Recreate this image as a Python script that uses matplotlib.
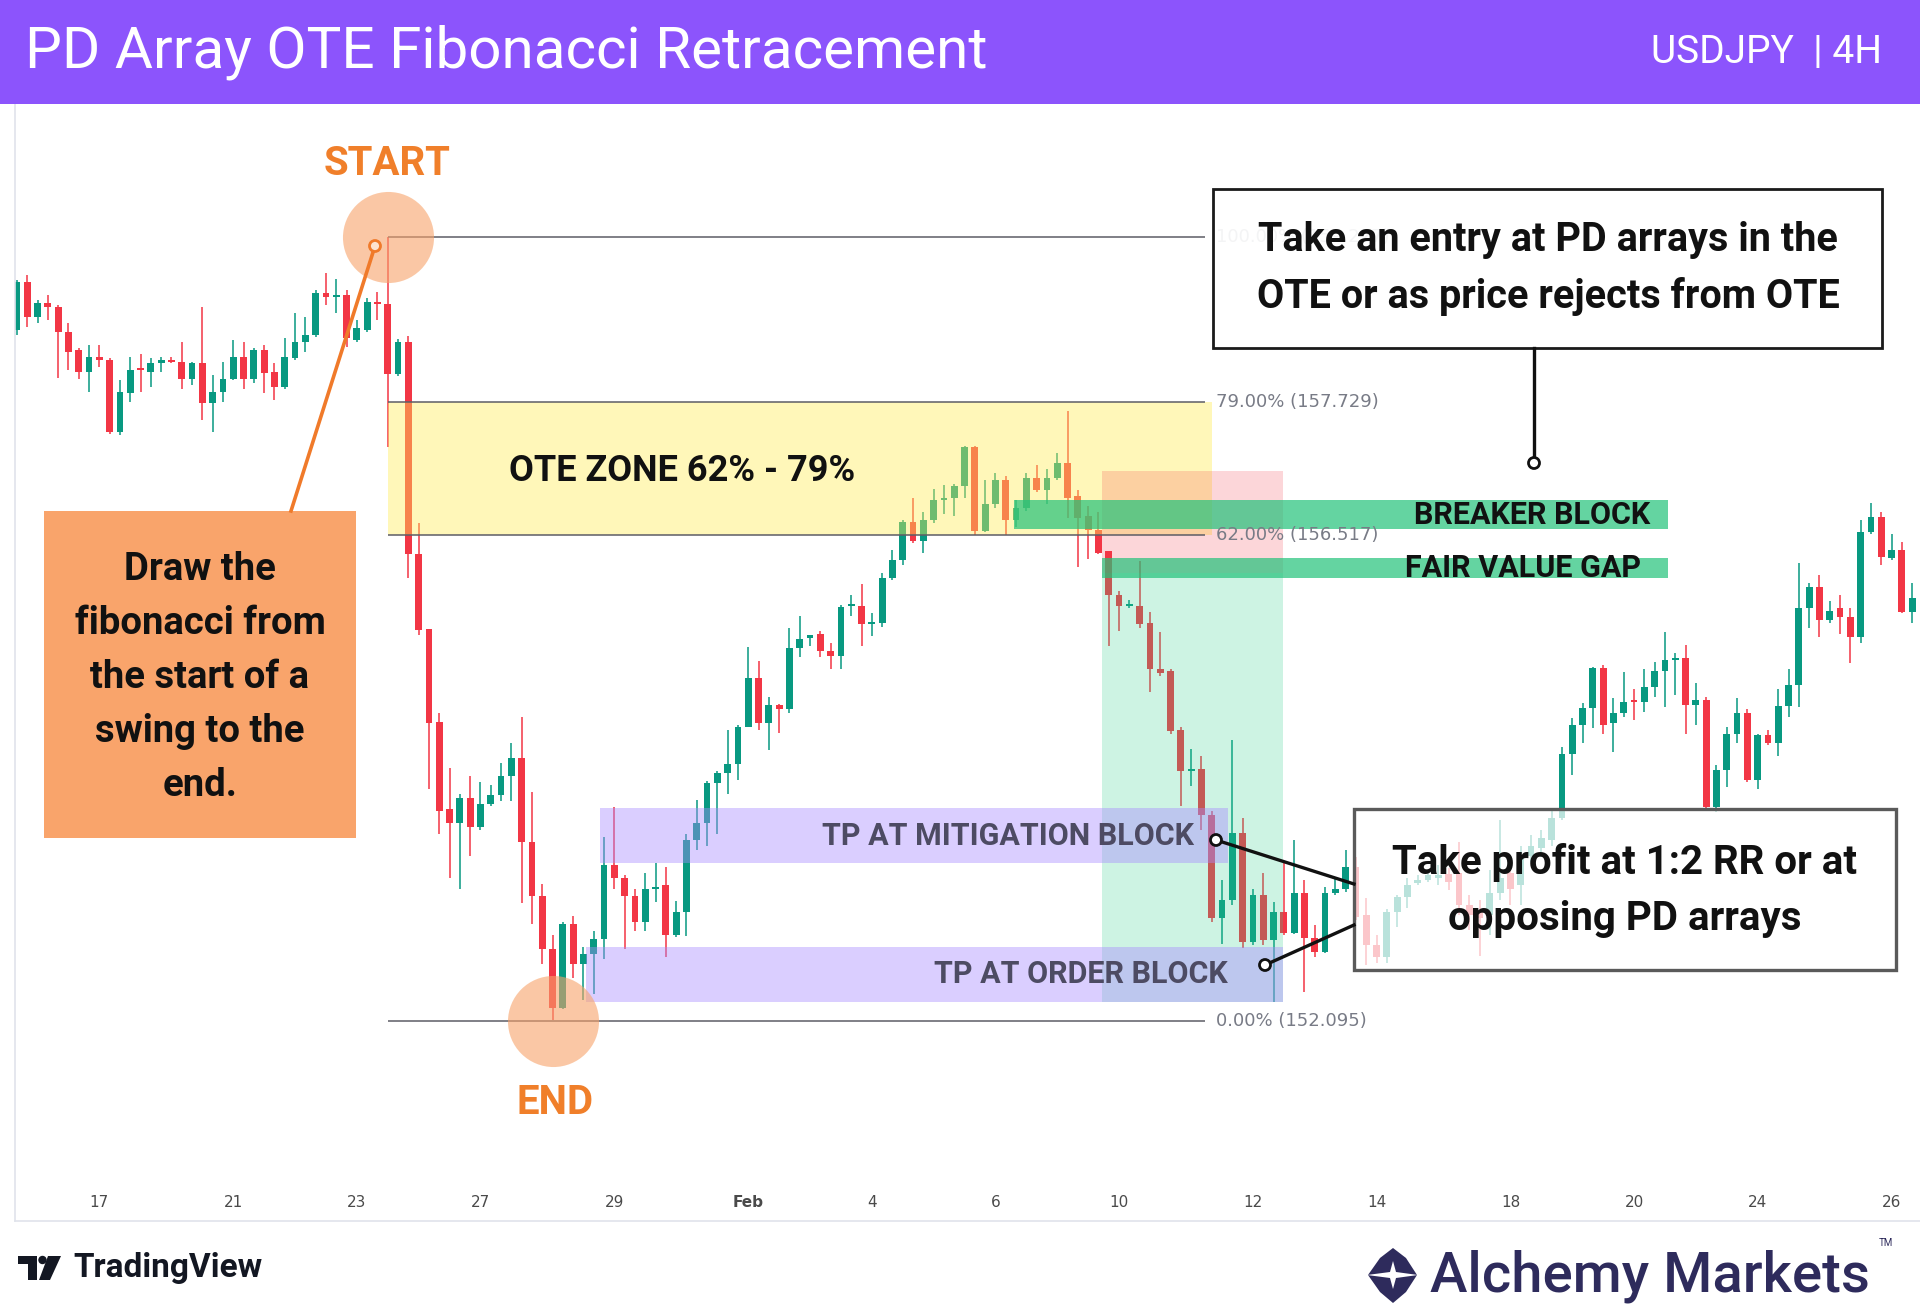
import numpy as np
import matplotlib.pyplot as plt
from matplotlib.patches import Rectangle, Polygon, Circle

# ---------------------------------------------------------------------------
# USDJPY 4H candles
opens = [158.38, 158.82, 158.50, 158.63, 158.59, 158.36, 158.20, 158.00, 158.14, 158.11,
         157.45, 157.81, 158.04, 158.00, 158.08, 158.11, 158.09, 157.94, 158.08, 157.72,
         157.82, 157.94, 158.14, 157.94, 158.20, 158.00, 157.86, 158.13, 158.27, 158.34,
         158.72, 158.68, 158.70, 158.29, 158.38, 158.64, 158.62, 157.98, 158.27, 156.34,
         155.66, 154.82, 154.02, 153.90, 154.12, 153.86, 154.07, 154.15, 154.32, 154.49,
         153.72, 153.23, 152.75, 152.21, 152.98, 152.61, 152.70, 152.84, 153.51, 153.40,
         153.23, 153.00, 153.30, 153.33, 152.88, 153.09, 153.74, 153.90, 154.26, 154.35,
         154.43, 154.77, 155.22, 154.81, 154.97, 154.93, 155.49, 155.58, 155.62, 155.46,
         155.42, 155.87, 155.87, 155.71, 155.72, 156.13, 156.29, 156.64, 156.46, 156.65,
         156.84, 156.85, 156.96, 157.32, 156.55, 156.80, 157.02, 156.65, 156.76, 157.04,
         156.93, 157.04, 157.17, 156.87, 156.69, 156.56, 156.37, 155.97, 155.87, 155.87,
         155.72, 155.30, 155.28, 154.74, 154.37, 154.39, 153.97, 153.03, 153.20, 153.81,
         152.81, 153.24, 152.83, 153.09, 152.90, 153.26, 152.85, 152.72, 153.26, 153.30,
         153.50, 153.06, 152.79, 152.68, 153.09, 153.22, 153.35, 153.38, 153.40, 153.43,
         153.44, 153.15, 153.09, 153.06, 153.26, 153.44, 153.33, 153.60, 153.67, 153.74,
         153.94, 154.52, 154.79, 154.94, 155.31, 154.81, 154.90, 155.02, 155.00, 155.13,
         155.28, 155.38, 155.40, 154.97, 155.02, 154.04, 154.38, 154.71, 154.90, 154.29,
         154.70, 154.62, 154.96, 155.15, 155.85, 156.04, 155.74, 155.85, 155.77, 155.59,
         156.54, 156.68, 156.31, 156.38, 155.82]
highs = [158.84, 158.88, 158.66, 158.70, 158.61, 158.45, 158.22, 158.25, 158.25, 158.13,
         157.93, 158.14, 158.16, 158.13, 158.14, 158.14, 158.27, 158.09, 158.59, 157.97,
         158.09, 158.29, 158.27, 158.22, 158.25, 158.08, 158.31, 158.54, 158.50, 158.75,
         158.90, 158.85, 158.75, 158.47, 158.67, 158.73, 159.23, 158.30, 158.33, 156.63,
         155.66, 154.90, 154.40, 154.16, 154.32, 154.27, 154.24, 154.44, 154.62, 154.86,
         154.18, 153.34, 152.88, 153.00, 153.05, 152.77, 152.91, 153.77, 154.04, 153.42,
         153.30, 153.44, 153.53, 153.50, 153.19, 153.80, 154.11, 154.28, 154.37, 154.74,
         154.79, 155.50, 155.37, 155.04, 154.98, 155.67, 155.78, 155.61, 155.64, 155.53,
         155.88, 155.97, 156.07, 155.81, 156.17, 156.38, 156.65, 156.85, 156.73, 156.94,
         156.97, 156.98, 157.33, 157.33, 157.02, 157.08, 157.05, 156.84, 157.08, 157.15,
         157.12, 157.26, 157.65, 156.93, 156.78, 156.73, 156.37, 156.01, 155.93, 156.28,
         155.82, 155.63, 155.30, 154.77, 154.57, 154.51, 154.01, 153.38, 154.65, 153.94,
         153.30, 153.44, 153.18, 153.53, 153.74, 153.38, 152.97, 153.31, 153.40, 153.65,
         153.59, 153.21, 152.88, 153.11, 153.24, 153.40, 153.42, 153.44, 153.51, 153.49,
         153.72, 153.24, 153.20, 153.47, 153.92, 153.56, 153.69, 153.79, 153.83, 154.02,
         154.59, 154.85, 154.99, 155.32, 155.33, 155.03, 155.27, 155.12, 155.30, 155.36,
         155.63, 155.44, 155.52, 155.17, 155.04, 154.42, 154.77, 155.03, 154.93, 154.71,
         154.74, 155.12, 155.30, 156.26, 156.08, 156.15, 155.92, 155.97, 155.85, 156.65,
         156.81, 156.73, 156.53, 156.45, 156.08]
lows = [158.34, 158.41, 158.45, 158.47, 157.95, 158.02, 157.94, 157.82, 158.05, 157.44,
        157.43, 157.73, 157.82, 157.86, 158.00, 158.08, 157.85, 157.88, 157.56, 157.45,
        157.73, 157.93, 157.85, 157.90, 157.81, 157.75, 157.85, 158.11, 158.18, 158.32,
        158.61, 158.54, 158.23, 158.27, 158.36, 158.47, 157.32, 157.96, 156.13, 155.61,
        154.21, 153.80, 153.40, 153.30, 153.60, 153.83, 154.05, 154.10, 154.10, 153.17,
        152.98, 152.61, 152.10, 152.20, 152.49, 152.29, 152.34, 152.66, 153.30, 152.75,
        152.91, 152.91, 153.18, 152.68, 152.86, 152.87, 153.65, 153.69, 153.80, 154.16,
        154.29, 154.77, 154.74, 154.56, 154.72, 154.90, 155.41, 155.51, 155.41, 155.30,
        155.30, 155.78, 155.51, 155.60, 155.68, 156.11, 156.24, 156.44, 156.35, 156.63,
        156.71, 156.69, 156.85, 156.52, 156.54, 156.76, 156.52, 156.59, 156.74, 156.91,
        156.80, 157.02, 156.67, 156.23, 156.30, 156.34, 155.51, 155.64, 155.85, 155.67,
        155.09, 155.23, 154.71, 154.05, 154.23, 153.83, 153.00, 152.80, 153.15, 152.76,
        152.79, 152.79, 152.27, 152.88, 152.89, 152.36, 152.68, 152.71, 153.24, 153.27,
        153.01, 152.60, 152.62, 152.62, 152.95, 153.12, 153.33, 153.36, 153.33, 153.29,
        153.06, 152.92, 152.69, 152.88, 153.20, 153.15, 153.15, 153.54, 153.59, 153.69,
        153.92, 154.33, 154.62, 154.76, 154.71, 154.54, 154.86, 154.83, 154.91, 155.04,
        154.95, 155.06, 154.71, 154.79, 154.03, 154.00, 154.22, 154.62, 154.27, 154.21,
        154.61, 154.51, 154.86, 154.95, 155.67, 155.59, 155.72, 155.62, 155.35, 155.53,
        156.53, 156.24, 156.29, 155.81, 155.72]
closes = [158.82, 158.50, 158.63, 158.59, 158.36, 158.18, 158.00, 158.14, 158.11, 157.45,
          157.82, 158.02, 158.02, 158.08, 158.11, 158.09, 157.94, 158.08, 157.72, 157.82,
          157.94, 158.14, 157.94, 158.20, 157.99, 157.86, 158.14, 158.27, 158.34, 158.72,
          158.68, 158.70, 158.31, 158.40, 158.64, 158.62, 157.98, 158.27, 156.34, 155.65,
          154.81, 154.01, 153.90, 154.12, 153.86, 154.07, 154.15, 154.32, 154.49, 153.72,
          153.23, 152.75, 152.21, 152.98, 152.61, 152.70, 152.84, 153.51, 153.40, 153.23,
          153.00, 153.30, 153.31, 152.88, 153.09, 153.74, 153.90, 154.26, 154.35, 154.43,
          154.77, 155.22, 154.81, 154.97, 154.93, 155.49, 155.57, 155.61, 155.46, 155.42,
          155.86, 155.89, 155.71, 155.73, 156.13, 156.29, 156.64, 156.46, 156.65, 156.84,
          156.85, 156.96, 157.32, 156.55, 156.80, 157.02, 156.65, 156.76, 157.04, 156.93,
          157.04, 157.17, 156.85, 156.67, 156.56, 156.35, 155.97, 155.87, 155.89, 155.71,
          155.30, 155.26, 154.73, 154.37, 154.39, 153.97, 153.03, 153.20, 153.81, 152.81,
          153.24, 152.83, 153.09, 152.90, 153.26, 152.85, 152.72, 153.26, 153.30, 153.50,
          153.04, 152.79, 152.68, 153.09, 153.22, 153.33, 153.38, 153.42, 153.42, 153.36,
          153.15, 153.06, 153.03, 153.26, 153.40, 153.30, 153.60, 153.69, 153.76, 153.94,
          154.52, 154.79, 154.94, 155.31, 154.79, 154.90, 155.00, 155.00, 155.13, 155.28,
          155.38, 155.40, 154.97, 155.02, 154.04, 154.38, 154.71, 154.90, 154.29, 154.70,
          154.62, 154.96, 155.15, 155.85, 156.04, 155.74, 155.83, 155.77, 155.59, 156.54,
          156.68, 156.32, 156.38, 155.82, 155.94]

date_ticks = [8, 21, 33, 45, 58, 71, 83, 95, 107, 120, 132, 145, 157, 169, 182]
date_labels = ['17', '21', '23', '27', '29', 'Feb', '4', '6', '10', '12', '14',
               '18', '20', '24', '26']

# Fibonacci drawn from the swing high (bar 36) to the swing low (bar 52)
fib_pct = [1.00, 0.79, 0.62, 0.00]
fib_price = [159.227, 157.729, 156.517, 152.095]
fib_x0, fib_x1 = 36, 115.3
swing_start, swing_end = 36, 52

# PD array zones: (x0, x1, low, high)
breaker_block = (96.8, 160.3, 156.57, 156.835)
fair_value_gap = (105.3, 160.3, 156.125, 156.31)
mitigation_block = (56.6, 117.6, 153.53, 154.03)
order_block = (55.2, 122.9, 152.27, 152.77)
# short position tool: entry / stop / target
pos_x0, pos_x1 = 105.3, 122.9
pos_entry, pos_stop, pos_target = 156.17, 157.10, 152.27

UP, DOWN = '#089981', '#f23645'
W, H = 1920, 1314

fig = plt.figure(figsize=(W / 100, H / 100), dpi=100)
fig.patch.set_facecolor('white')

################################################################################
# Price pane
ax = fig.add_axes([14.7 / W, (H - 1221) / H, (W - 14.7) / W, (1221 - 104) / H])
ax.set_xlim(-0.22, 184.76)
ax.set_ylim(150.275, 160.439)

o, hi, lo, c = (np.array(v) for v in (opens, highs, lows, closes))
idx = np.arange(len(o))
cols = np.where(c >= o, UP, DOWN)
ax.vlines(idx, lo, hi, colors=cols, lw=1.1, zorder=2)
ax.bar(idx, np.maximum(np.abs(c - o), 0.018), bottom=np.minimum(o, c),
       width=0.66, color=cols, lw=0, zorder=2.1)

# OTE zone (62% - 79%)
ax.add_patch(Rectangle((fib_x0, fib_price[2]), 116.0 - fib_x0,
                       fib_price[1] - fib_price[2], color='#ffee58',
                       alpha=0.42, lw=0, zorder=3))

# position tool
ax.add_patch(Rectangle((pos_x0, pos_entry), pos_x1 - pos_x0, pos_stop - pos_entry,
                       color='#f23645', alpha=0.2, lw=0, zorder=3))
ax.add_patch(Rectangle((pos_x0, pos_target), pos_x1 - pos_x0, pos_entry - pos_target,
                       color='#2fd08a', alpha=0.24, lw=0, zorder=3))

# TP boxes
for (x0, x1, y0, y1) in (mitigation_block, order_block):
    ax.add_patch(Rectangle((x0, y0), x1 - x0, y1 - y0, color='#a88cff',
                           alpha=0.42, lw=0, zorder=3.5))

# breaker block / FVG
for (x0, x1, y0, y1) in (breaker_block, fair_value_gap):
    ax.add_patch(Rectangle((x0, y0), x1 - x0, y1 - y0, color='#22c27a',
                           alpha=0.7, lw=0, zorder=4))

# fib levels
ax.hlines(fib_price, fib_x0, fib_x1, colors='#5d5d66', lw=1.1, zorder=4)
for p, v in zip(fib_pct, fib_price):
    ax.text(fib_x1 + 1.1, v, f'{p * 100:.2f}% ({v:.3f})', color='#787b86',
            fontsize=13, va='center', ha='left', zorder=4)

# swing markers
ax.scatter([swing_start], [fib_price[0]], s=4300, color='#f8a36a', alpha=0.6,
           lw=0, zorder=7)
ax.scatter([swing_end], [fib_price[3]], s=4300, color='#f8a36a', alpha=0.6,
           lw=0, zorder=7)

lbl = dict(family='Roboto', weight='bold', va='center', zorder=6)
ax.text(47.8, 157.10, 'OTE ZONE 62% - 79%', fontsize=26, color='#111111',
        ha='left', **lbl)
ax.text(158.6, sum(breaker_block[2:]) / 2, 'BREAKER BLOCK', fontsize=22,
        color='#111111', ha='right', **lbl)
ax.text(157.7, sum(fair_value_gap[2:]) / 2, 'FAIR VALUE GAP', fontsize=22,
        color='#111111', ha='right', **lbl)
ax.text(114.3, sum(mitigation_block[2:]) / 2, 'TP AT MITIGATION BLOCK', fontsize=22,
        color='#4d4b63', ha='right', **lbl)
ax.text(117.6, sum(order_block[2:]) / 2, 'TP AT ORDER BLOCK', fontsize=22,
        color='#4d4b63', ha='right', **lbl)

ax.set_xticks(date_ticks, date_labels)
ax.tick_params(axis='x', length=0, pad=-19, labelsize=11, labelcolor='#4a4a4a')
ax.get_xticklabels()[date_labels.index('Feb')].set_fontweight('bold')
ax.set_yticks([])
for s in ('top', 'right'):
    ax.spines[s].set_visible(False)
for s in ('left', 'bottom'):
    ax.spines[s].set_color('#e0e3eb')
    ax.spines[s].set_linewidth(1.2)

################################################################################
# Annotation layer (pixel coordinates)
ov = fig.add_axes([0, 0, 1, 1], zorder=5)
ov.set_xlim(0, W)
ov.set_ylim(H, 0)
ov.axis('off')
ov.patch.set_visible(False)

# header
ov.add_patch(Rectangle((0, 0), W, 104, color='#8c54fc', lw=0))
ov.text(25, 52, 'PD Array OTE Fibonacci Retracement', color='white',
        family='Roboto', fontsize=42, va='center', ha='left')
ov.text(1882, 52, 'USDJPY  | 4H', color='white', family='Roboto',
        fontsize=28, va='center', ha='right')

# START / END labels
ov.text(387, 164, 'START', color='#f07f2a', family='Roboto', weight='bold',
        fontsize=29, ha='center', va='center')
ov.text(555, 1103, 'END', color='#f07f2a', family='Roboto', weight='bold',
        fontsize=29, ha='center', va='center')

# orange note box and its pointer
ov.plot([375, 291], [246, 511], color='#f07a2a', lw=2.6, zorder=3)
ov.add_patch(Circle((375, 246), 5.5, facecolor='#fde3cf', edgecolor='#f07a2a',
                    lw=2, zorder=4))
ov.add_patch(Rectangle((44, 511), 312, 327, color='#f9a46b', lw=0, zorder=2))
for t, y in zip(['Draw the', 'fibonacci from', 'the start of a', 'swing to the', 'end.'],
                [569, 623, 677, 732, 785]):
    ov.text(200, y, t, color='#111111', family='Roboto', weight='bold',
            fontsize=27.5, ha='center', va='center', zorder=3)

# top-right callout
ov.add_patch(Rectangle((1213, 189), 669, 159, facecolor='white', alpha=0.92,
                       edgecolor='none', zorder=2))
ov.add_patch(Rectangle((1213, 189), 669, 159, facecolor='none',
                       edgecolor='#1a1a1a', lw=2, zorder=3))
for t, y in zip(['Take an entry at PD arrays in the', 'OTE or as price rejects from OTE'],
                [240, 297]):
    ov.text(1548, y, t, color='#111111', family='Roboto', weight='bold',
            fontsize=28.5, ha='center', va='center', zorder=4)
ov.plot([1534, 1534], [348, 458], color='#111111', lw=2.4, zorder=3)
ov.add_patch(Circle((1534, 463), 5.5, facecolor='white', edgecolor='#111111',
                    lw=2, zorder=4))

# bottom-right callout
ov.add_patch(Rectangle((1354, 809), 542, 161, facecolor='white', alpha=0.72,
                       edgecolor='none', zorder=2))
ov.add_patch(Rectangle((1354, 809), 542, 161, facecolor='none',
                       edgecolor='#5a5a5a', lw=2.4, zorder=3))
for t, y in zip(['Take profit at 1:2 RR or at', 'opposing PD arrays'], [862, 919]):
    ov.text(1625, y, t, color='#111111', family='Roboto', weight='bold',
            fontsize=29, ha='center', va='center', zorder=4)
ov.plot([1216, 1354], [840, 884], color='#111111', lw=2.4, zorder=3)
ov.plot([1265, 1354], [965, 925], color='#111111', lw=2.4, zorder=3)
for cx, cy in ((1216, 840), (1265, 965)):
    ov.add_patch(Circle((cx, cy), 5.5, facecolor='white', edgecolor='#111111',
                        lw=2, zorder=4))

# footer logos
ov.add_patch(Polygon([(18, 1256), (37, 1256), (37, 1280), (28, 1280), (28, 1264),
                      (18, 1264)], color='#131722', lw=0))
ov.add_patch(Circle((42.5, 1260), 4.2, color='#131722', lw=0))
ov.add_patch(Polygon([(48, 1256), (61, 1256), (50, 1280), (39, 1280)],
                     color='#131722', lw=0))
ov.text(73, 1268, 'TradingView', color='#131722', family='Roboto', weight='bold',
        fontsize=24, ha='left', va='center')

navy = '#2e2b5c'
ov.add_patch(Polygon([(1393, 1248), (1406, 1258), (1417, 1275), (1406, 1292),
                      (1393, 1303), (1380, 1292), (1368, 1275), (1380, 1258)],
                     color=navy, lw=0))
ov.add_patch(Polygon([(1393, 1261), (1396, 1272), (1418, 1275), (1396, 1278),
                      (1393, 1289), (1390, 1278), (1367, 1275), (1390, 1272)],
                     color='white', lw=0))
ov.text(1430, 1276, 'Alchemy Markets', color=navy, family='Roboto',
        weight='medium', fontsize=40.5, ha='left', va='center')
ov.text(1886, 1243, 'TM', color=navy, family='Roboto', fontsize=7,
        ha='center', va='center')

fig.savefig('out.png', dpi=100)
